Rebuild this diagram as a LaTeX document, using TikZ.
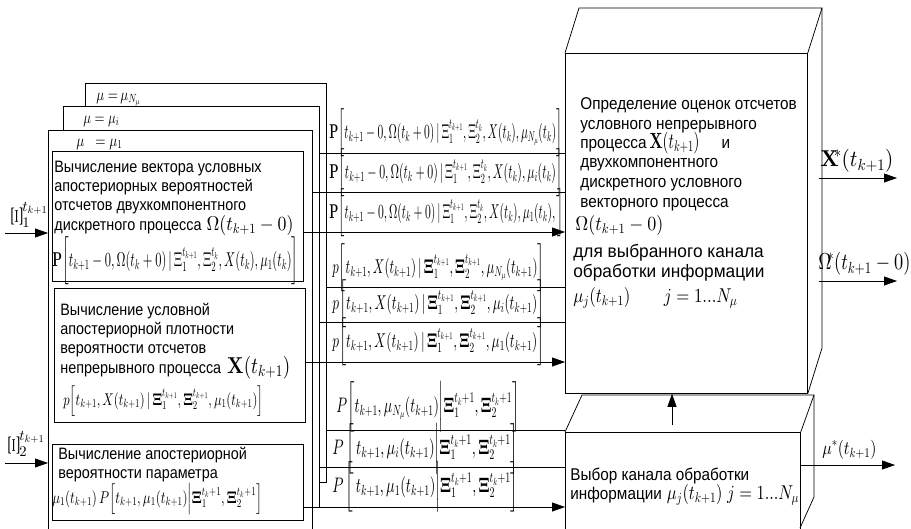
\documentclass[tikz,border=0pt]{standalone}
\usepackage{amsmath}
\usepackage{bm}
\usepackage{graphicx}
\usepackage[no-math]{fontspec}
\DeclareFontShape{OML}{cmm}{m}{it}{<->cmmi10}{}
\DeclareFontShape{OML}{cmm}{b}{it}{<->cmmib10}{}
\DeclareFontShape{OMS}{cmsy}{m}{n}{<->cmsy10}{}
\DeclareFontShape{OMS}{cmsy}{b}{n}{<->cmbsy10}{}
\DeclareFontShape{OMX}{cmex}{m}{n}{<->cmex10}{}
\DeclareFontShape{OT1}{cmr}{m}{n}{<->cmr10}{}
\DeclareFontShape{OT1}{cmr}{bx}{n}{<->cmbx10}{}
\DeclareFontShape{OT1}{cmr}{m}{it}{<->cmti10}{}
\newfontfamily\rusl[FakeStretch=0.872]{Liberation Sans}
\newfontfamily\rusr[FakeStretch=0.9]{Liberation Sans}
\newfontfamily\rusw[FakeStretch=0.96]{Liberation Sans}
\usetikzlibrary{arrows.meta}
\newcommand\fw[2]{\resizebox{#1}{\height}{$\displaystyle #2$}}
\newcommand\rXi{\raisebox{-4pt}{\resizebox{11pt}{20pt}{\rotatebox{90}{$\Xi$}}}}
\newcommand\bXi{\bm{\Xi}}
\newcommand\fs[1]{\fontsize{#1}{19}\selectfont}
\begin{document}
\begin{tikzpicture}[x=1pt,y=-1pt,line width=0.75pt,
  frame/.style={draw,fill=white,inner sep=0pt,anchor=north west},
  rul/.style={anchor=base west,inner sep=0pt,font=\rusl\fontsize{16.5}{19}\selectfont},
  rur/.style={anchor=base west,inner sep=0pt,font=\rusr\fontsize{17}{19}\selectfont},
  ruw/.style={anchor=base west,inner sep=0pt,font=\rusw\fontsize{18}{19}\selectfont},
  mth/.style={anchor=west,inner sep=0pt,font=\fontsize{20}{19}\selectfont},
  mthl/.style={anchor=west,inner sep=0pt,font=\fontsize{21}{19}\selectfont},
  mths/.style={anchor=west,inner sep=0pt,font=\fontsize{17}{20}\selectfont},
  arr/.style={-{Triangle[length=13pt,width=9pt]}}
]
\clip (0,0) rectangle (911,528);
% ---------- stacked channel frames ----------
\node[frame,minimum width=241pt,minimum height=399pt] (chN) at (85,83) {};
\node[frame,minimum width=256pt,minimum height=401pt] (chI) at (63,106) {};
\node[frame,minimum width=264pt,minimum height=430pt] (ch1) at (48,130) {};
\node[anchor=base west,inner sep=0pt,font=\fs{17}] (muN) at (96,100) {\fw{44pt}{\mu\;{=}\,\mu_{N_\mu}}};
\node[anchor=base west,inner sep=0pt,font=\fs{17}] (muI) at (83,123) {\fw{36pt}{\mu = \mu_i}};
\node[anchor=base west,inner sep=0pt,font=\fs{17}] (muO) at (76,146) {\fw{46pt}{\mu\;\; = \mu_1}};
% ---------- inner boxes ----------
\node[frame,minimum width=251pt,minimum height=130pt] (bA) at (52,151) {};
\node[frame,minimum width=251pt,minimum height=134pt] (bB) at (54,288) {};
\node[frame,minimum width=251pt,minimum height=76pt] (bC) at (52,444) {};
\node[rul] (a1) at (54,172) {Вычисление вектора условных};
\node[rul] (a2) at (54,191) {апостериорных вероятностей};
\node[rul] (a3) at (54,210) {отсчетов двухкомпонентного};
\node[rul] (a4) at (54,230) {дискретного процесса\hspace{5pt}{\fs{20}\fw{87pt}{\Omega(t_{k+1}-0)}}};
\node[mth] (a5) at (52,261) {\fw{246pt}{\mathbf{P}\bigg[t_{k+1}-0,\Omega(t_k+0)\,|\,\Xi_1^{t_{k+1}},\Xi_2^{t_k},X(t_k),\mu_1(t_k)\bigg]}};
\node[rul] (b1) at (60,315) {Вычисление условной};
\node[rul] (b2) at (60,334) {апостериорной плотности};
\node[rul] (b3) at (60,353) {вероятности отсчетов};
\node[rul] (b4) at (60,373) {непрерывного процесса\hspace{6pt}{\fs{23}\fw{63pt}{\mathbf{X}(t_{k+1})}}};
\node[mths] (b5) at (63,401) {\fw{200pt}{p\Big[t_{k+1},X(t_{k+1})\,|\,\bXi_1^{t_{k+1}},\bXi_2^{t_{k+1}},\mu_1(t_{k+1})\Big]}};
\node[rul] (c1) at (58,459) {Вычисление апостериорной};
\node[rul] (c2) at (58,478) {вероятности параметра};
\node[mths] (c3) at (52,499) {\fw{210pt}{\mu_1(t_{k+1})\,P\Big[t_{k+1},\mu_1(t_{k+1})\Big|\bXi_1^{t_k+1},\bXi_2^{t_k+1}\Big]}};
% ---------- big 3D boxes ----------
\node[frame,minimum width=242pt,minimum height=340pt] (bigA) at (565,53) {};
\draw (bigA.north west) -- ++(14,-45) -- ++(243,0) coordinate (trA) -- (bigA.north east);
\draw (trA) -- ++(0,340) -- (bigA.south east);
\node[frame,minimum width=235pt,minimum height=110pt] (bigB) at (565,432) {};
\draw (bigB.north west) -- ++(17,-37) -- ++(232,0) coordinate (trB) -- (bigB.north east);
\draw (trB) -- ++(0,102) -- ++(-14,31);
\node[rur] (d1) at (580,109) {Определение оценок отсчетов};
\node[rur] (d2) at (580,129) {условного непрерывного};
\node[rur] (d3) at (580,148) {процесса\hspace{3pt}{\fs{22}\fw{50pt}{\mathbf{X}(t_{k+1})}}\hspace{22pt}и};
\node[rur] (d4) at (580,167) {двухкомпонентного};
\node[rur] (d5) at (580,187) {дискретного условного};
\node[rur] (d6) at (580,207) {векторного процесса};
\node[rur] (d7) at (575,230) {{\fs{20}\fw{88pt}{\Omega(t_{k+1}-0)}}};
\node[ruw] (d8) at (573,257) {для выбранного канала};
\node[ruw] (d9) at (573,277) {обработки информации};
\node[rur] (d10) at (573,302) {{\fs{20}\fw{164pt}{\mu_j(t_{k+1})\qquad j=1...N_\mu}}};
\node[rur] (e1) at (570,480) {Выбор канала обработки};
\node[rur] (e2) at (570,499) {информации\hspace{5pt}{\fs{20}\fw{132pt}{\mu_j(t_{k+1})\;j=1...N_\mu}}};
% ---------- row formulas ----------
\node[mth] (r1) at (329,133) {\fw{233pt}{\mathbf{P}\bigg[t_{k+1}-0,\Omega(t_k+0)\,|\,\Xi_1^{t_{k+1}},\Xi_2^{t_k},X(t_k),\mu_{N_\mu}(t_k)\bigg]}};
\node[mth] (r2) at (329,173) {\fw{233pt}{\mathbf{P}\bigg[t_{k+1}-0,\Omega(t_k+0)\,|\,\Xi_1^{t_{k+1}},\Xi_2^{t_k},X(t_k),\mu_i(t_k)\bigg]}};
\node[mth] (r3) at (329,213) {\fw{234pt}{\mathbf{P}\bigg[t_{k+1}-0,\Omega(t_k+0)\,|\,\Xi_1^{t_{k+1}},\Xi_2^{t_k},X(t_k),\mu_1(t_k),\bigg]}};
\node[mth] (r4) at (332,268) {\fw{212pt}{p\bigg[t_{k+1},X(t_{k+1})\,|\,\bXi_1^{t_{k+1}},\bXi_2^{t_{k+1}},\mu_{N_\mu}(t_{k+1})\bigg]}};
\node[mth] (r5) at (332,304) {\fw{212pt}{p\bigg[t_{k+1},X(t_{k+1})\,|\,\bXi_1^{t_{k+1}},\bXi_2^{t_{k+1}},\mu_i(t_{k+1})\bigg]}};
\node[mth] (r6) at (332,342) {\fw{212pt}{p\bigg[t_{k+1},X(t_{k+1})\,|\,\bXi_1^{t_{k+1}},\bXi_2^{t_{k+1}},\mu_1(t_{k+1})\bigg]}};
\node[mthl] (r7) at (336,407) {\fw{183pt}{P\bigg[t_{k+1},\mu_{N_\mu}(t_{k+1})\bigg|\bXi_1^{t_k+1},\bXi_2^{t_k+1}\bigg]}};
\node[mthl] (r8) at (332,449) {\fw{186pt}{P\,\bigg[\,t_{k+1},\mu_i(t_{k+1})\bigg|\bXi_1^{t_k+1},\bXi_2^{t_k+1}\bigg]}};
\node[mthl] (r9) at (332,487) {\fw{186pt}{P\,\bigg[\,t_{k+1},\mu_1(t_{k+1})\bigg|\bXi_1^{t_k+1},\bXi_2^{t_k+1}\bigg]}};
% ---------- connectors ----------
\coordinate (L1) at (565,153);
\coordinate (L2) at (565,192);
\coordinate (L3) at (565,232);
\coordinate (L4) at (565,287);
\coordinate (L5) at (565,322);
\coordinate (L6) at (565,362);
\coordinate (L7) at (565,430);
\coordinate (L8) at (565,467);
\coordinate (L9) at (565,507);
\draw (chI.east |- L1) -- (L1);
\draw (ch1.east |- L2) -- (L2);
\draw[arr] (bA.east |- L3) -- (L3);
\draw (chN.east |- L4) -- (L4);
\draw (chI.east |- L5) -- (L5);
\draw[arr] (bB.east |- L6) -- (L6);
\draw (chN.east |- L7) -- (L7);
\draw (chI.east |- L8) -- (L8);
\draw[arr] (bC.east |- L9) -- (L9);
% ---------- inputs ----------
\coordinate (i1) at (5,233);
\coordinate (i2) at (5,463);
\draw[arr] (i1) -- (ch1.west |- i1);
\draw[arr] (i2) -- (ch1.west |- i2);
\node[anchor=base west,inner sep=0pt,font=\fs{21}] (xi1) at (11,222) {${\rXi}_1^{t_{k+1}}$};
\node[anchor=base west,inner sep=0pt,font=\fs{21}] (xi2) at (8,451) {${\rXi}_2^{t_{k+1}}$};
% ---------- outputs ----------
\coordinate (o1) at (897,178);
\coordinate (o2) at (897,281);
\coordinate (o3) at (895,465);
\draw[arr] ([xshift=11pt]bigA.east |- o1) -- (o1);
\draw[arr] ([xshift=11pt]bigA.east |- o2) -- (o2);
\draw[arr] (bigB.east |- o3) -- (o3);
\node[anchor=west,inner sep=0pt,font=\fs{23}] (xs) at (820,161) {\fw{73pt}{\mathbf{X}^{\!\!*}(t_{k+1})}};
\node[anchor=west,inner sep=0pt,font=\fs{23}] (os) at (818,264) {\fw{92pt}{\Omega^{\!\!*}(t_{k+1}-0)}};
\node[anchor=west,inner sep=0pt,font=\fs{19}] (ms) at (822,450) {\fw{54pt}{\mu^{*}(t_{k+1})}};
% vertical arrow
\coordinate (up1) at (672,425);
\draw[arr] (up1) -- (up1 |- bigA.south);
\end{tikzpicture}
\end{document}
